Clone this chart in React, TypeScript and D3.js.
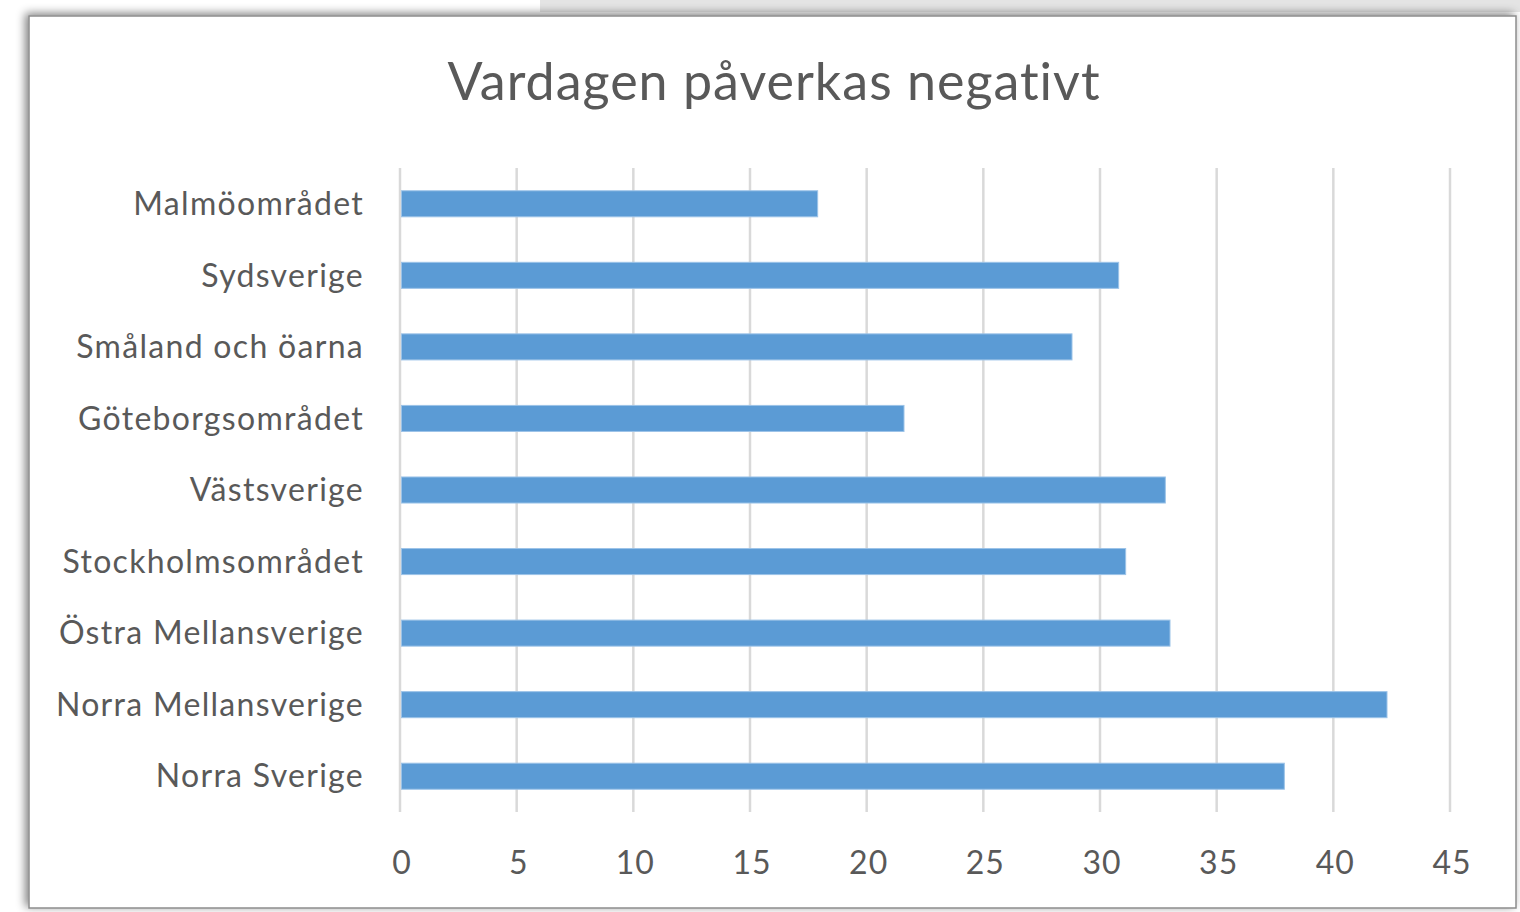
import React from "react";
import * as d3 from "d3";

const categories = [
  "Malmöområdet",
  "Sydsverige",
  "Småland och öarna",
  "Göteborgsområdet",
  "Västsverige",
  "Stockholmsområdet",
  "Östra Mellansverige",
  "Norra Mellansverige",
  "Norra Sverige",
];
const values = [17.9, 30.8, 28.8, 21.6, 32.8, 31.1, 33.0, 42.3, 37.9];
const ticks = [0, 5, 10, 15, 20, 25, 30, 35, 40, 45];
const title = "Vardagen påverkas negativt";

const W = 1520;
const H = 912;
const FONT = "Lato, 'Open Sans', sans-serif";

export default function App() {
  const x = d3.scaleLinear().domain([0, 45]).range([400, 1450]);
  const y = d3
    .scaleBand<string>()
    .domain(categories)
    .range([168, 812])
    .paddingInner(0.636)
    .paddingOuter(0.318);

  return (
    <svg
      width={W}
      height={H}
      style={{ position: "absolute", left: 0, top: 0, display: "block" }}
    >
      <defs>
        <filter id="sh" x="-5%" y="-5%" width="110%" height="110%">
          <feGaussianBlur in="SourceAlpha" stdDeviation="5" />
          <feOffset dx="-3" dy="-2" result="b" />
          <feComponentTransfer>
            <feFuncA type="linear" slope="0.5" />
          </feComponentTransfer>
          <feMerge>
            <feMergeNode />
            <feMergeNode in="SourceGraphic" />
          </feMerge>
        </filter>
      </defs>
      <rect x={0} y={0} width={W} height={H} fill="#ffffff" />
      <rect x={540} y={0} width={980} height={12} fill="#e4e4e4" />
      <rect
        x={29}
        y={16}
        width={1487}
        height={892}
        fill="#ffffff"
        stroke="#8c8c8c"
        strokeWidth={1.5}
        filter="url(#sh)"
      />
      <text
        x={774}
        y={100}
        textAnchor="middle"
        fontFamily={FONT}
        fontSize={52}
        letterSpacing={1}
        fill="#595959"
      >
        {title}
      </text>
      {ticks.map((t) => (
        <line
          key={"g" + t}
          x1={x(t)}
          x2={x(t)}
          y1={168}
          y2={812}
          stroke="#d9d9d9"
          strokeWidth={2.5}
        />
      ))}
      {categories.map((c, i) => (
        <rect
          key={"b" + c}
          x={x(0) + 1.5}
          y={y(c)!}
          width={x(values[i]) - x(0) - 1.5}
          height={y.bandwidth()}
          fill="#5b9bd5"
          stroke="#9cc3e8"
          strokeWidth={1}
        />
      ))}
      {categories.map((c) => (
        <text
          key={"l" + c}
          x={364}
          y={y(c)! + y.bandwidth() / 2}
          dy="0.35em"
          textAnchor="end"
          fontFamily={FONT}
          fontSize={32}
          letterSpacing={1.3}
          fill="#595959"
        >
          {c}
        </text>
      ))}
      {ticks.map((t) => (
        <text
          key={"t" + t}
          x={x(t) + 2}
          y={874}
          textAnchor="middle"
          fontFamily={FONT}
          fontSize={32}
          letterSpacing={1}
          fill="#595959"
        >
          {t}
        </text>
      ))}
    </svg>
  );
}
